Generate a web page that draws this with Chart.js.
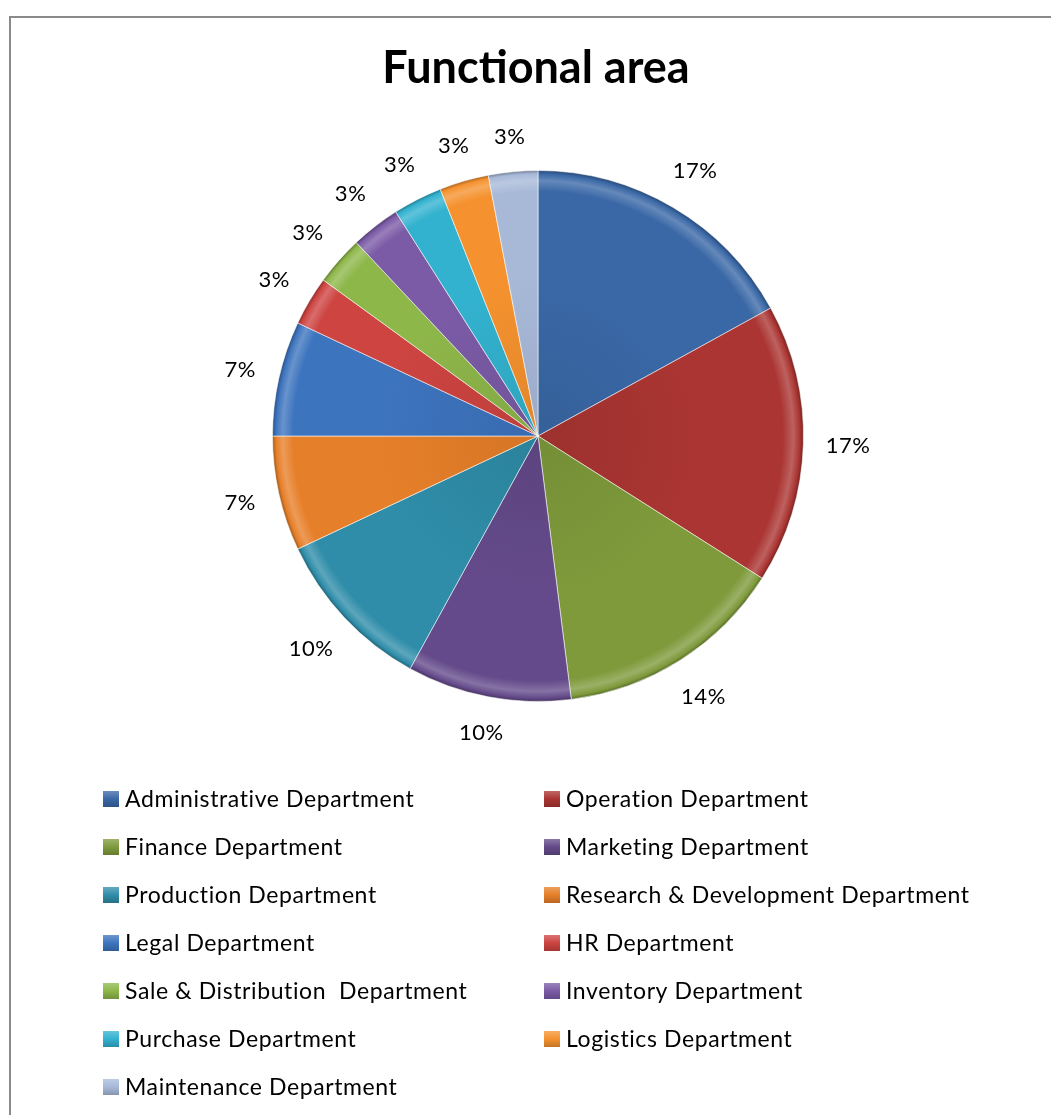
<!DOCTYPE html>
<html>
<head>
<meta charset="utf-8">
<title>Functional area</title>
<script src="https://cdn.jsdelivr.net/npm/chart.js@4.4.1/dist/chart.umd.min.js"></script>
<style>
  html, body { margin: 0; padding: 0; background: #fff; }
  #wrap { position: relative; width: 1051px; height: 1115px; overflow: hidden; }
  #frame { position: absolute; left: 9px; top: 16px; right: -10px; bottom: -10px; border: 2px solid #8a8a8a; }
  canvas { position: absolute; left: 0; top: 0; }
</style>
</head>
<body>
<div id="wrap">
  <div id="frame"></div>
  <canvas id="chart" width="1051" height="1115"></canvas>
</div>
<script>
const chartTitle = "Functional area";

const departments = [
  "Administrative Department",
  "Operation Department",
  "Finance Department",
  "Marketing Department",
  "Production Department",
  "Research & Development Department",
  "Legal Department",
  "HR Department",
  "Sale & Distribution  Department",
  "Inventory Department",
  "Purchase Department",
  "Logistics Department",
  "Maintenance Department"
];

// share of staff per department, in percent
const sharePct = [17, 17, 14, 10, 10, 7, 7, 3, 3, 3, 3, 3, 3];

const sliceColors = [
  "#3A68A6", "#AA3532", "#7E9A3B", "#644A8A", "#2F8DA9", "#E67F29",
  "#3D74BE", "#CD4441", "#8EB74A", "#7B5BA6", "#33B2CF", "#F5922F",
  "#A8B9D8"
];

// mix a hex colour toward white (amt > 0) or black (amt < 0)
function shade(hex, amt) {
  const n = parseInt(hex.slice(1), 16);
  let r = n >> 16, g = (n >> 8) & 255, b = n & 255;
  const t = amt < 0 ? 0 : 255, p = Math.abs(amt);
  r = Math.round(r + (t - r) * p);
  g = Math.round(g + (t - g) * p);
  b = Math.round(b + (t - b) * p);
  return "rgb(" + r + "," + g + "," + b + ")";
}

// radial gradient gives the slices a bevelled rim
function sliceFill(context) {
  const base = sliceColors[context.dataIndex];
  const area = context.chart.chartArea;
  if (!area) return base;
  const cx = (area.left + area.right) / 2;
  const cy = (area.top + area.bottom) / 2;
  const r = Math.min(area.width, area.height) / 2;
  const g = context.chart.ctx.createRadialGradient(cx, cy, 0, cx, cy, r);
  g.addColorStop(0, shade(base, -0.08));
  g.addColorStop(0.6, base);
  g.addColorStop(0.92, base);
  g.addColorStop(0.96, shade(base, 0.22));
  g.addColorStop(0.985, base);
  g.addColorStop(1, shade(base, -0.35));
  return g;
}

const pieDecorations = {
  id: "pieDecorations",
  afterDraw(chart) {
    const ctx = chart.ctx;
    const meta = chart.getDatasetMeta(0);
    const total = sharePct.reduce((a, b) => a + b, 0);

    ctx.save();

    // title
    ctx.fillStyle = "#000";
    ctx.font = "bold 45px Lato";
    ctx.textAlign = "center";
    ctx.textBaseline = "alphabetic";
    ctx.fillText(chartTitle, 536, 83);

    // percentage labels just outside each slice
    ctx.font = "22px Lato";
    ctx.letterSpacing = "0.5px";
    ctx.textBaseline = "middle";
    meta.data.forEach((arc, i) => {
      const p = arc.getProps(["x", "y", "startAngle", "endAngle", "outerRadius"], true);
      const mid = (p.startAngle + p.endAngle) / 2;
      const text = Math.round(sharePct[i] / total * 100) + "%";
      const w = ctx.measureText(text).width;
      const cos = Math.cos(mid), sin = Math.sin(mid);
      const dist = p.outerRadius + 22 + Math.abs(cos) * w / 2 + Math.abs(sin) * 11;
      ctx.fillText(text, p.x + cos * dist, p.y + sin * dist);
    });

    // two-column legend
    ctx.font = "23px Lato";
    ctx.letterSpacing = "0.6px";
    ctx.textAlign = "left";
    ctx.textBaseline = "alphabetic";
    const colX = [103, 544];
    departments.forEach((name, i) => {
      const x = colX[i % 2];
      const base = 807 + Math.floor(i / 2) * 48;
      const top = base - 16;
      const g = ctx.createLinearGradient(0, top, 0, top + 16);
      g.addColorStop(0, shade(sliceColors[i], 0.25));
      g.addColorStop(0.5, sliceColors[i]);
      g.addColorStop(1, shade(sliceColors[i], -0.2));
      ctx.fillStyle = g;
      ctx.fillRect(x, top, 16, 16);
      ctx.fillStyle = "#000";
      ctx.fillText(name, x + 22, base);
    });

    ctx.restore();
  }
};

new Chart(document.getElementById("chart"), {
  type: "pie",
  data: {
    labels: departments,
    datasets: [{
      data: sharePct,
      backgroundColor: sliceFill,
      borderColor: "rgba(255,255,255,0.55)",
      borderWidth: 1
    }]
  },
  options: {
    responsive: false,
    animation: false,
    events: [],
    layout: {
      padding: { left: 272, top: 170, right: 247, bottom: 413 }
    },
    plugins: {
      legend: { display: false },
      title: { display: false },
      tooltip: { enabled: false }
    }
  },
  plugins: [pieDecorations]
});
</script>
</body>
</html>
